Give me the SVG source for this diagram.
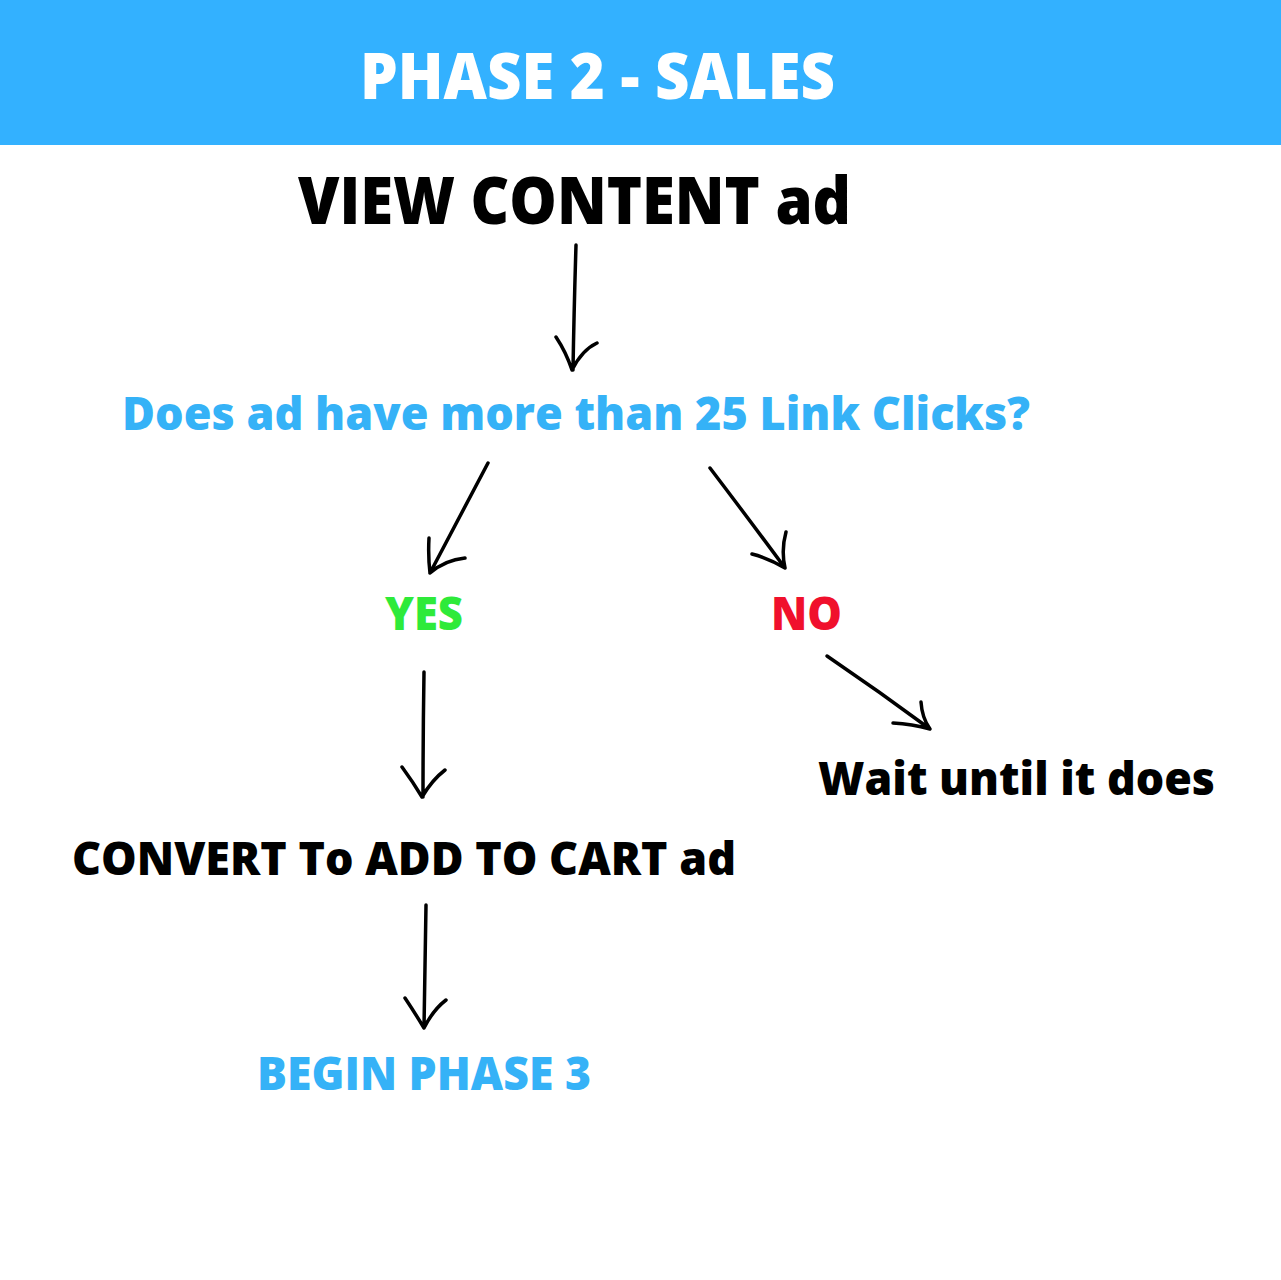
<svg xmlns="http://www.w3.org/2000/svg" width="1281" height="1280" viewBox="0 0 1281 1280">
<style>
text{font-family:"Open Sans","Liberation Sans",sans-serif;font-weight:800}
.blk{fill:#000}
.blue{fill:#35B2F7}
.arr{fill:none;stroke:#000;stroke-width:3.5;stroke-linecap:round;stroke-linejoin:round}
</style>
<rect width="1281" height="1280" fill="#fff"/>
<rect x="0" y="0" width="1281" height="145" fill="#33B1FF"/>
<g id="title"><text x="360" y="99" font-size="63" fill="#fff" textLength="475" lengthAdjust="spacingAndGlyphs">PHASE 2 - SALES</text></g>
<g id="view"><text class="blk" x="298" y="224" font-size="65" textLength="553" lengthAdjust="spacingAndGlyphs">VIEW CONTENT ad</text></g>
<g id="question"><text class="blue" x="122" y="430" font-size="46" textLength="908" lengthAdjust="spacingAndGlyphs">Does ad have more than 25 Link Clicks?</text></g>
<g id="yes"><text x="385" y="630" font-size="46" fill="#2EEA3A" textLength="78" lengthAdjust="spacingAndGlyphs">YES</text></g>
<g id="no"><text x="771" y="630" font-size="46" fill="#F0102C" textLength="71" lengthAdjust="spacingAndGlyphs">NO</text></g>
<g id="wait"><text class="blk" x="818" y="795" font-size="46" textLength="397" lengthAdjust="spacingAndGlyphs">Wait until it does</text></g>
<g id="convert"><text class="blk" x="72" y="875" font-size="46" textLength="664" lengthAdjust="spacingAndGlyphs">CONVERT To ADD TO CART ad</text></g>
<g id="begin"><text class="blue" x="257" y="1090" font-size="46" textLength="334" lengthAdjust="spacingAndGlyphs">BEGIN PHASE 3</text></g>
<g id="connectors">
<path class="arr" d="M576,245 Q574,310 573,370 M556,337 Q566,352 572,370 Q582,350 597,343"/>
<path class="arr" d="M488,463 Q458,520 430,573 M429,538 Q428,556 430,573 Q445,560 465,558"/>
<path class="arr" d="M710,468 Q748,518 785,568 M786,532 Q781,550 785,568 Q768,558 752,554"/>
<path class="arr" d="M424,672 Q423,735 423,797 M402,767 Q413,782 422,797 Q432,780 445,770"/>
<path class="arr" d="M827,656 Q880,692 930,729 M921,702 Q922,718 930,729 Q912,724 893,723"/>
<path class="arr" d="M426,905 Q425,967 424,1028 M405,998 Q415,1013 424,1028 Q433,1010 446,1000"/>
</g>
</svg>
